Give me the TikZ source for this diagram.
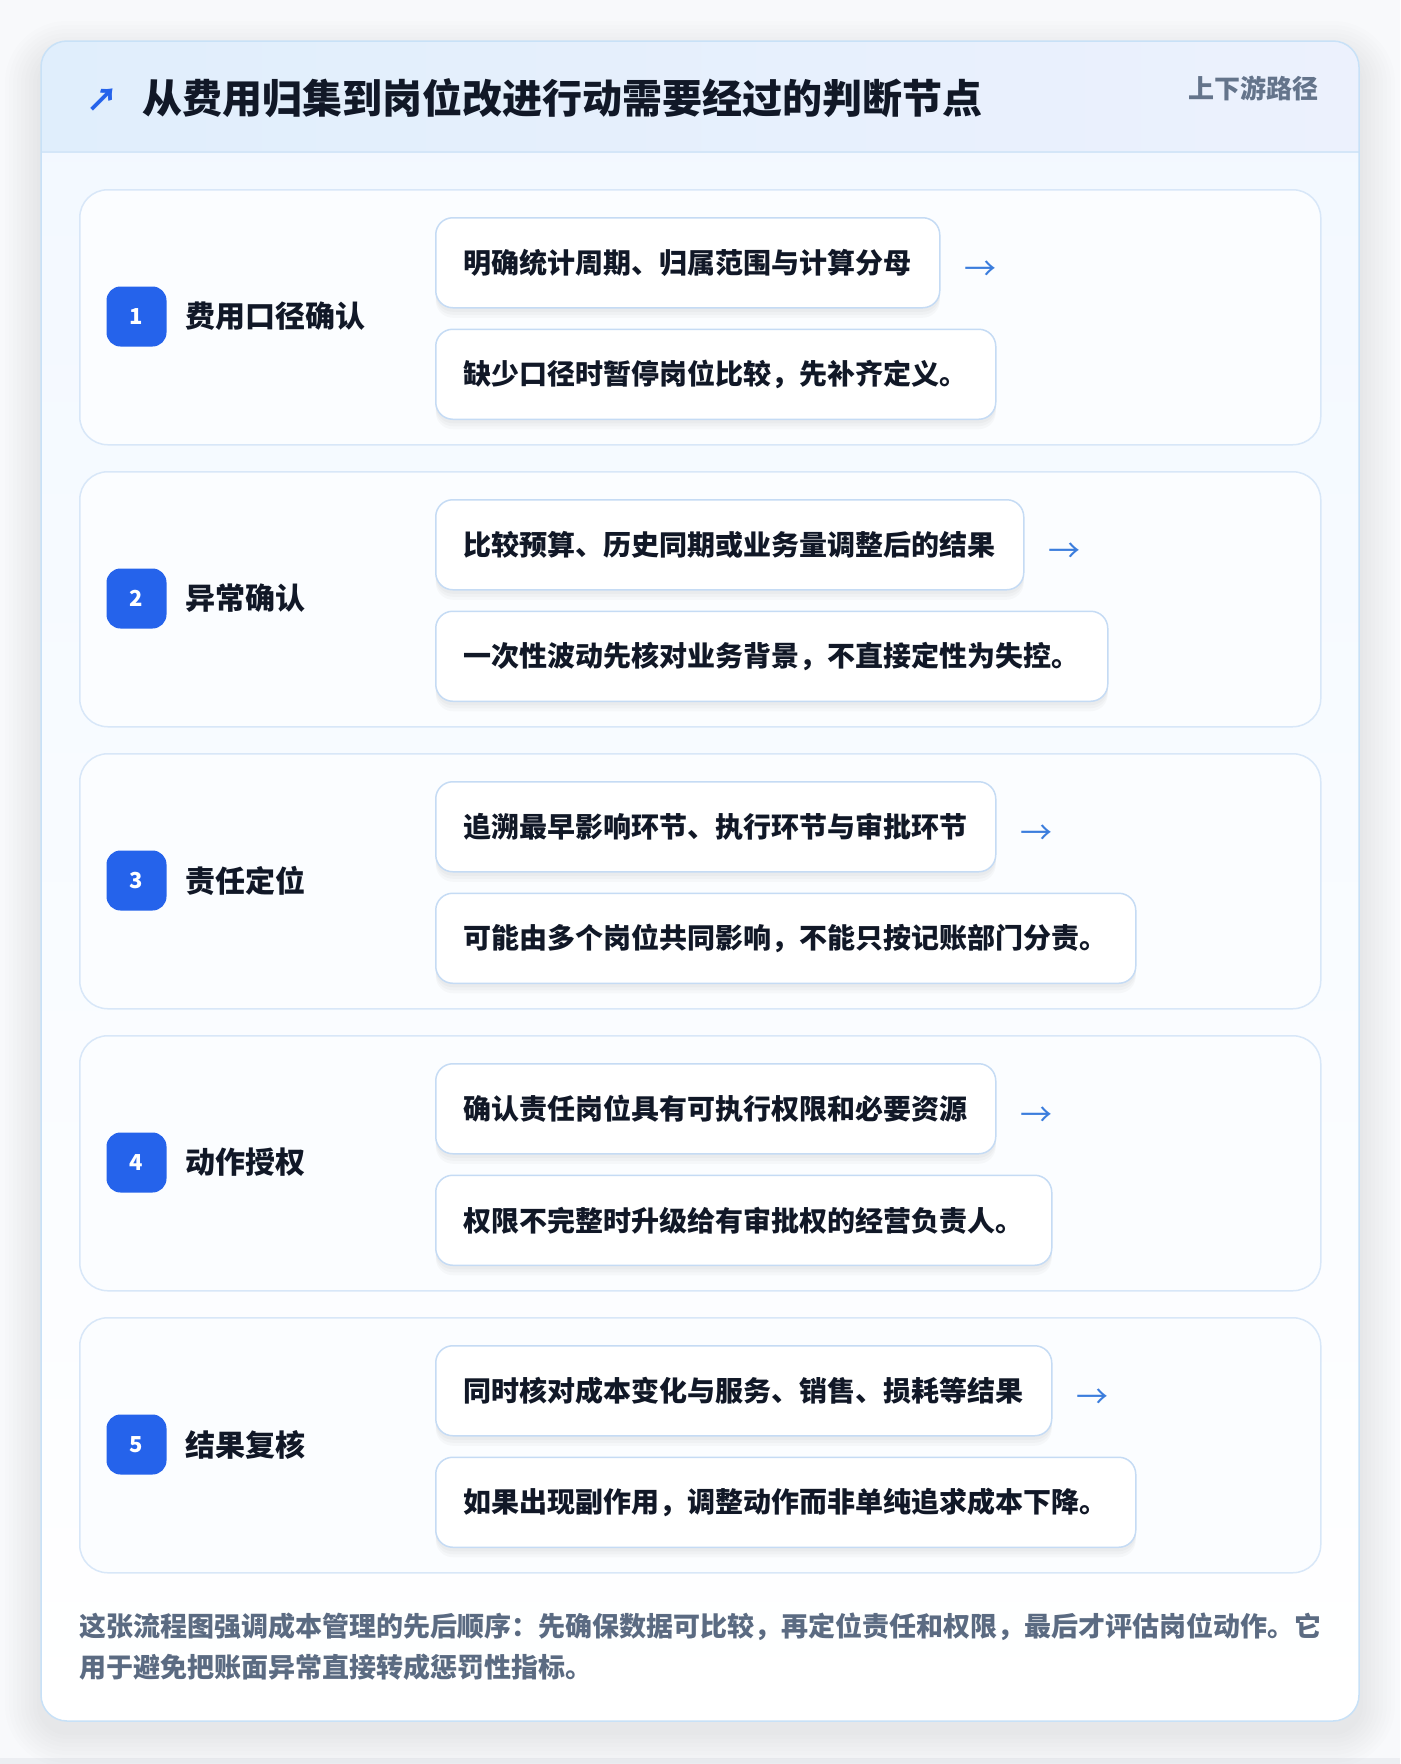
\documentclass[tikz,border=0pt]{standalone}
\usepackage{fontspec}
\setmainfont{Noto Sans CJK SC}
\usetikzlibrary{positioning}
\definecolor{pagebg}{HTML}{F8F9FB}
\definecolor{pagestrip}{HTML}{ECEEF2}
\definecolor{frameline}{HTML}{C8E1F7}
\definecolor{bodytop}{HTML}{F2F8FF}
\definecolor{headleft}{HTML}{E0EEFC}
\definecolor{headright}{HTML}{ECF1FD}
\definecolor{headline}{HTML}{D4E6F8}
\definecolor{ink}{HTML}{111827}
\definecolor{subgray}{HTML}{64748B}
\definecolor{notegray}{HTML}{5B6B82}
\definecolor{cardline}{HTML}{D8E7F8}
\definecolor{cardfill}{HTML}{FBFDFF}
\definecolor{boxline}{HTML}{C5DBF4}
\definecolor{badgeblue}{HTML}{2563EB}
\definecolor{arrowblue}{HTML}{3B7DDD}
\tikzset{
  softshadow/.style={preaction={fill=black, opacity=.025, transform canvas={yshift=-#1}}},
  stepcard/.style={draw=cardline, fill=cardfill, line width=1.5pt, rounded corners=28pt,
    minimum width=1241pt, minimum height=255pt, anchor=north west, inner sep=0pt},
  badge/.style={fill=badgeblue, text=white, rounded corners=14pt, minimum size=60pt,
    inner sep=0pt, font=\fontsize{22}{22}\selectfont\bfseries},
  steplabel/.style={text=ink, inner sep=0pt, font=\fontsize{30}{30}\selectfont\bfseries},
  checkbox/.style={draw=boxline, fill=white, line width=1.5pt, rounded corners=17pt,
    minimum height=90pt, inner xsep=28pt, inner ysep=0pt, text=ink,
    font=\fontsize{28}{28}\selectfont\bfseries,
    softshadow=10pt, softshadow=7pt, softshadow=4pt},
  nextarrow/.style={text=arrowblue, inner sep=0pt, font=\fontsize{32}{32}\selectfont},
}
\begin{document}
\begin{tikzpicture}[x=1pt, y=-1pt]
\useasboundingbox (0,0) rectangle (1400,1764);
\fill[pagebg] (0,0) rectangle (1400,1764);
\fill[pagestrip] (0,1758) rectangle (1400,1764);
\foreach \s in {4,8,...,36}
  \fill[black, opacity=.007, rounded corners=26pt+\s] (41-\s,41-\s+16) rectangle (1359+\s,1721+\s+10);
\fill[white, rounded corners=26pt] (41,41) rectangle (1359,1721);
\shade[rounded corners=26pt, top color=bodytop, bottom color=white] (41,41) rectangle (1359,1721);
\begin{scope}
  \clip[rounded corners=26pt] (41,41) rectangle (1359,1721);
  \shade[left color=headleft, right color=headright] (41,41) rectangle (1359,152);
  \draw[headline, line width=1.5pt] (41,152) -- (1359,152);
\end{scope}
\draw[frameline, line width=1.5pt, rounded corners=26pt] (41,41) rectangle (1359,1721);
\node[text=badgeblue, inner sep=0pt, font=\fontsize{32}{32}\selectfont\bfseries] (icon) at (102,100) {↗};
\node[anchor=base west, inner sep=0pt, text=ink, font=\fontsize{40}{40}\selectfont\bfseries]
  (title) at (142,113) {从费用归集到岗位改进行动需要经过的判断节点};
\node[anchor=base east, inner sep=0pt, text=subgray, font=\fontsize{26}{26}\selectfont\bfseries]
  (tag) at (1319,98) {上下游路径};
\foreach \n/\lab/\ta/\tb in {
  1/费用口径确认/明确统计周期、归属范围与计算分母/缺少口径时暂停岗位比较，先补齐定义。,
  2/异常确认/比较预算、历史同期或业务量调整后的结果/一次性波动先核对业务背景，不直接定性为失控。,
  3/责任定位/追溯最早影响环节、执行环节与审批环节/可能由多个岗位共同影响，不能只按记账部门分责。,
  4/动作授权/确认责任岗位具有可执行权限和必要资源/权限不完整时升级给有审批权的经营负责人。,
  5/结果复核/同时核对成本变化与服务、销售、损耗等结果/如果出现副作用，调整动作而非单纯追求成本下降。}{
  \pgfmathsetmacro\top{189+(\n-1)*282}
  \node[stepcard] (card\n) at (79,\top) {};
  \node[badge] (badge\n) at (136.5,\top+127.5) {\n};
  \node[steplabel, right=19pt of badge\n] (label\n) {\lab};
  \node[checkbox, anchor=north west] (top\n) at (435,\top+28) {\ta};
  \node[checkbox, below right=20pt and 0pt of top\n.south west] (bottom\n) {\tb};
  \node[nextarrow, right=24pt of top\n, yshift=-8pt] (arrow\n) {→};
}
\node[anchor=base west, inner sep=0pt, align=left, text=notegray,
  font=\fontsize{27}{41}\selectfont\bfseries] (note) at (79,1677)
  {这张流程图强调成本管理的先后顺序：先确保数据可比较，再定位责任和权限，最后才评估岗位动作。它\\
   用于避免把账面异常直接转成惩罚性指标。};
\end{tikzpicture}
\end{document}
